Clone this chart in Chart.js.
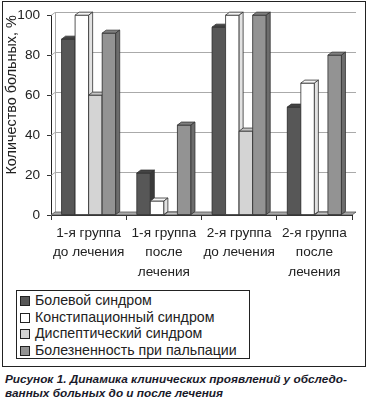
<!DOCTYPE html>
<html><head><meta charset="utf-8">
<script src="https://cdn.jsdelivr.net/npm/chart.js@4/dist/chart.umd.min.js"></script>
<style>
html,body{margin:0;padding:0;background:#fff;width:367px;height:402px;overflow:hidden;font-family:"Liberation Sans",Arial,sans-serif;}
#frame{position:absolute;left:2px;top:1px;width:362px;height:364px;border:1px solid #222;}
#wrap{position:absolute;left:0;top:0;width:367px;height:290px;}
#legend{position:absolute;left:16px;top:290px;width:234px;height:69px;border:1px solid #222;box-sizing:border-box;padding-top:1px;}
.li{height:16.5px;line-height:16.5px;font-size:14.2px;color:#222;white-space:nowrap;}
.sw{display:inline-block;width:10px;height:10px;border:1px solid #222;box-sizing:border-box;margin:0 5px 0 3px;vertical-align:-1px;}
#cap{position:absolute;left:5px;top:373px;font-size:11.8px;font-weight:bold;font-style:italic;line-height:13.5px;color:#1a1a2a;white-space:nowrap;}
</style></head><body>
<div id="frame"></div>
<div id="wrap"><canvas id="c" width="367" height="290"></canvas></div>
<div id="legend"></div>
<div id="cap">Рисунок 1. Динамика клинических проявлений у обследо-<br>ванных больных до и после лечения</div>
<script>
const categories = [["1-я группа","до лечения"],["1-я группа","после","лечения"],["2-я группа","до лечения"],["2-я группа","после","лечения"]];
const seriesNames = ["Болевой синдром","Констипационный синдром","Диспептический синдром","Болезненность при пальпации"];
const painSyndrome = [88, 21, 94, 54];
const constipationSyndrome = [100, 7, 100, 66];
const dyspepticSyndrome = [60, 0, 42, 0];
const palpationTenderness = [91, 45, 100, 80];
const yTickValues = [0, 20, 40, 60, 80, 100];
const yTitle = "Количество больных, %";

const fronts = ["#575757", "#ffffff", "#d4d4d4", "#939393"];
const tops = ["#444444", "#f4f4f4", "#c4c4c4", "#7f7f7f"];
const sides = ["#3a3a3a", "#e2e2e2", "#aeaeae", "#6c6c6c"];
const DX = 4, DY = 3;

const leg = document.getElementById('legend');
seriesNames.forEach((n, i) => {
  const d = document.createElement('div'); d.className = 'li';
  d.innerHTML = '<span class="sw" style="background:' + fronts[i] + '"></span>' + n;
  leg.appendChild(d);
});

function poly(ctx, pts, fill) {
  ctx.beginPath(); ctx.moveTo(pts[0][0], pts[0][1]);
  for (let k = 1; k < pts.length; k++) ctx.lineTo(pts[k][0], pts[k][1]);
  ctx.closePath(); ctx.fillStyle = fill; ctx.fill(); ctx.stroke();
}

const threeD = {
  id: 'threeD',
  beforeDatasetsDraw(chart) {
    const ctx = chart.ctx, a = chart.chartArea, y = chart.scales.y;
    ctx.save();
    ctx.strokeStyle = '#aaaaaa'; ctx.lineWidth = 1;
    yTickValues.forEach(v => {
      const py = Math.round(y.getPixelForValue(v)) + 0.5;
      ctx.beginPath(); ctx.moveTo(a.left, py); ctx.lineTo(a.left + DX, py - DY);
      ctx.lineTo(a.right + DX, py - DY); ctx.stroke();
    });
    ctx.beginPath(); ctx.moveTo(a.left + DX + 0.5, a.top - DY); ctx.lineTo(a.left + DX + 0.5, a.bottom - DY); ctx.stroke();
    ctx.strokeStyle = '#555'; ctx.lineWidth = 0.8;
    const b = y.getPixelForValue(0);
    poly(ctx, [[a.left, b], [a.right, b], [a.right + DX, b - DY], [a.left + DX, b - DY]], '#a8a8a8');
    ctx.restore();
  },
  afterDatasetsDraw(chart) {
    const ctx = chart.ctx;
    ctx.save(); ctx.strokeStyle = '#333'; ctx.lineWidth = 0.8;
    const n = chart.data.labels.length;
    for (let j = 0; j < n; j++) {
      chart.data.datasets.forEach((ds, i) => {
        const el = chart.getDatasetMeta(i).data[j];
        const x0 = el.x - el.width / 2, x1 = el.x + el.width / 2, t = el.y, bs = el.base;
        if (bs - t > 0.5) poly(ctx, [[x0, t], [x1, t], [x1, bs], [x0, bs]], fronts[i]);
        poly(ctx, [[x0, t], [x0 + DX, t - DY], [x1 + DX, t - DY], [x1, t]], tops[i]);
        poly(ctx, [[x1, t], [x1 + DX, t - DY], [x1 + DX, bs - DY], [x1, bs]], sides[i]);
      });
    }
    ctx.restore();
  }
};

const seriesData = [painSyndrome, constipationSyndrome, dyspepticSyndrome, palpationTenderness];
new Chart(document.getElementById('c'), {
  type: 'bar',
  data: {
    labels: categories,
    datasets: seriesNames.map((n, i) => ({
      label: n, data: seriesData[i], backgroundColor: fronts[i], borderColor: '#333', borderWidth: 0.8,
      barPercentage: 1, categoryPercentage: 0.72
    }))
  },
  options: {
    responsive: false, animation: false,
    layout: { padding: { top: 14, right: 15, left: 0, bottom: 0 } },
    plugins: { legend: { display: false }, tooltip: { enabled: false } },
    scales: {
      x: {
        grid: { offset: true, drawOnChartArea: false, drawTicks: true, tickLength: 5, color: '#333' },
        border: { display: true, color: '#222', width: 1 },
        ticks: { color: '#222', font: { family: 'Liberation Sans', size: 13.6, lineHeight: 1.45 }, padding: 3, maxRotation: 0, autoSkip: false },
        afterFit(s) { s.height = 75; }
      },
      y: {
        min: 0, max: 100,
        afterBuildTicks(s) { s.ticks = yTickValues.map(v => ({ value: v })); },
        grid: { drawOnChartArea: false, drawTicks: true, tickLength: 4, color: '#333' },
        border: { display: true, color: '#222', width: 1 },
        ticks: { color: '#222', font: { family: 'Liberation Sans', size: 13.6 }, padding: 7 },
        title: { display: true, text: yTitle, align: 'end', color: '#222', font: { family: 'Liberation Sans', size: 14.4 }, padding: { top: 3, bottom: 2 } },
        afterFit(s) { s.width = 51; }
      }
    }
  },
  plugins: [threeD]
});
</script>
</body></html>
